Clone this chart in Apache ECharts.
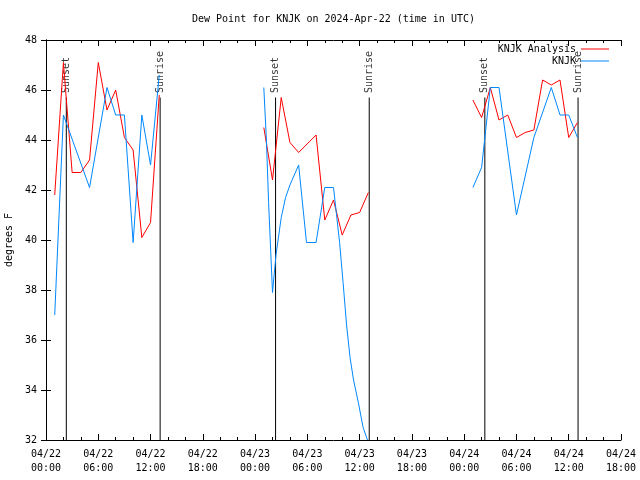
<!DOCTYPE html>
<html><head><meta charset="utf-8">
<script src="https://cdn.jsdelivr.net/npm/echarts@6/dist/echarts.min.js"></script>
<style>html,body{margin:0;padding:0;background:#fff}#c{width:640px;height:480px}</style>
</head><body><div id="c"></div><script>
// Hours since 2024-04-22 00:00 UTC
const analysisHours = [1,2,3,4,5,6,7,8,9,10,11,12,13,
  25,26,27,28,29,31,32,33,34,35,36,37,
  49,50,51,52,53,54,55,56,57,58,59,60,61];
const analysisValues = [41.8,47.1,42.7,42.7,43.2,47.1,45.2,46.0,44.1,43.6,40.1,40.7,45.8,
  44.5,42.4,45.7,43.9,43.5,44.2,40.8,41.6,40.2,41.0,41.1,41.9,
  45.6,44.9,46.1,44.8,45.0,44.1,44.3,44.4,46.4,46.2,46.4,44.1,44.7];
const obsHours = [1,2,5,7,8,9,10,11,12,13,
  25,25.3,25.55,25.8,26,26.4,27,27.5,28,29,29.9,31,32,33,33.7,34.1,34.5,34.9,35.3,35.85,36.4,36.9,
  49,50,51,52,54,56,58,59,60,61];
const obsValues = [37.0,45.0,42.1,46.1,45.0,45.0,39.9,45.0,43.0,46.6,
  46.1,44.0,41.5,39.5,37.9,39.4,40.9,41.7,42.2,43.0,39.9,39.9,42.1,42.1,39.9,38.3,36.6,35.3,34.4,33.5,32.5,32.0,
  42.1,42.9,46.1,46.1,41.0,44.1,46.1,45.0,45.0,44.1];
const sunHours = [2.33, 13.1, 26.35, 37.1, 50.37, 61.07];
const sunLabels = ['Sunset','Sunrise','Sunset','Sunrise','Sunset','Sunrise'];
const sunTop = 45.7;
const xTickLabels = ['04/22\n00:00','04/22\n06:00','04/22\n12:00','04/22\n18:00',
  '04/23\n00:00','04/23\n06:00','04/23\n12:00','04/23\n18:00',
  '04/24\n00:00','04/24\n06:00','04/24\n12:00','04/24\n18:00'];
const yTicks = {min: 32, max: 48, interval: 2};
const xTicks = {min: 0, max: 66, interval: 6};

const FONT = 'DejaVu Sans Mono';
const RED = '#ff0000', BLUE = '#0088ff';

function segments(hours, values, name, color, z) {
  const out = [];
  let cur = [];
  for (let i = 0; i < hours.length; i++) {
    if (cur.length && hours[i] - hours[i-1] > 6) { out.push(cur); cur = []; }
    cur.push([hours[i], values[i]]);
  }
  if (cur.length) out.push(cur);
  return out.map(d => ({
    name: name, type: 'line', data: d, symbol: 'none', showSymbol: false,
    lineStyle: {color: color, width: 1}, itemStyle: {color: color},
    animation: false, z: z
  }));
}

const series = [];
sunHours.forEach(t => {
  series.push({type: 'line', data: [[t, yTicks.min], [t, sunTop]], symbol: 'none',
    lineStyle: {color: '#000', width: 1}, silent: true, animation: false, z: 1});
});
series.push({
  type: 'scatter', symbolSize: 1, itemStyle: {color: 'rgba(0,0,0,0)'}, silent: true, animation: false,
  data: sunHours.map((t, i) => ({value: [t, sunTop], name: sunLabels[i]})),
  label: {show: true, formatter: '{b}', rotate: 90, position: 'top', distance: 4,
    align: 'left', verticalAlign: 'middle', fontFamily: FONT, fontSize: 10, color: '#000'}
});
series.push(...segments(analysisHours, analysisValues, 'KNJK Analysis', RED, 3));
series.push(...segments(obsHours, obsValues, 'KNJK', BLUE, 4));

const axisCommonX = {
  type: 'value', min: xTicks.min, max: xTicks.max, interval: xTicks.interval,
  axisLine: {show: true, lineStyle: {color: '#000', width: 1}},
  axisTick: {show: true, inside: true, length: 6, lineStyle: {color: '#000'}},
  minorTick: {show: true, splitNumber: 3, length: 3, lineStyle: {color: '#000'}},
  splitLine: {show: false}, minorSplitLine: {show: false}
};
const axisCommonY = {
  type: 'value', min: yTicks.min, max: yTicks.max, interval: yTicks.interval,
  axisLine: {show: true, lineStyle: {color: '#000', width: 1}},
  axisTick: {show: true, inside: true, length: 5, lineStyle: {color: '#000'}},
  splitLine: {show: false}
};

const chart = echarts.init(document.getElementById('c'));
chart.setOption({
  animation: false,
  backgroundColor: '#fff',
  title: {text: 'Dew Point for KNJK on 2024-Apr-22 (time in UTC)', left: 192, top: 14, padding: 0,
    textStyle: {fontFamily: FONT, fontSize: 10, fontWeight: 'normal', color: '#000'}},
  legend: {data: ['KNJK Analysis', 'KNJK'], orient: 'vertical', right: 31, top: 44, padding: 0,
    align: 'right', icon: 'rect', itemWidth: 28, itemHeight: 1, itemGap: 2,
    textStyle: {fontFamily: FONT, fontSize: 10, color: '#000'}},
  grid: {left: 46, right: 19, top: 40, bottom: 40, containLabel: false, outerBoundsMode: 'none'},
  xAxis: [
    Object.assign({}, axisCommonX, {position: 'bottom',
      axisLabel: {formatter: v => xTickLabels[Math.round(v / xTicks.interval)] || '',
        fontFamily: FONT, fontSize: 10, color: '#000', margin: 7, lineHeight: 14}}),
    Object.assign({}, axisCommonX, {position: 'top', axisLabel: {show: false}})
  ],
  yAxis: [
    Object.assign({}, axisCommonY, {position: 'left',
      name: 'degrees F', nameLocation: 'middle', nameGap: 31,
      nameTextStyle: {fontFamily: FONT, fontSize: 10, color: '#000'},
      axisLabel: {fontFamily: FONT, fontSize: 10, color: '#000', margin: 9}}),
    Object.assign({}, axisCommonY, {position: 'right', axisLabel: {show: false}})
  ],
  series: series
});
</script></body></html>
